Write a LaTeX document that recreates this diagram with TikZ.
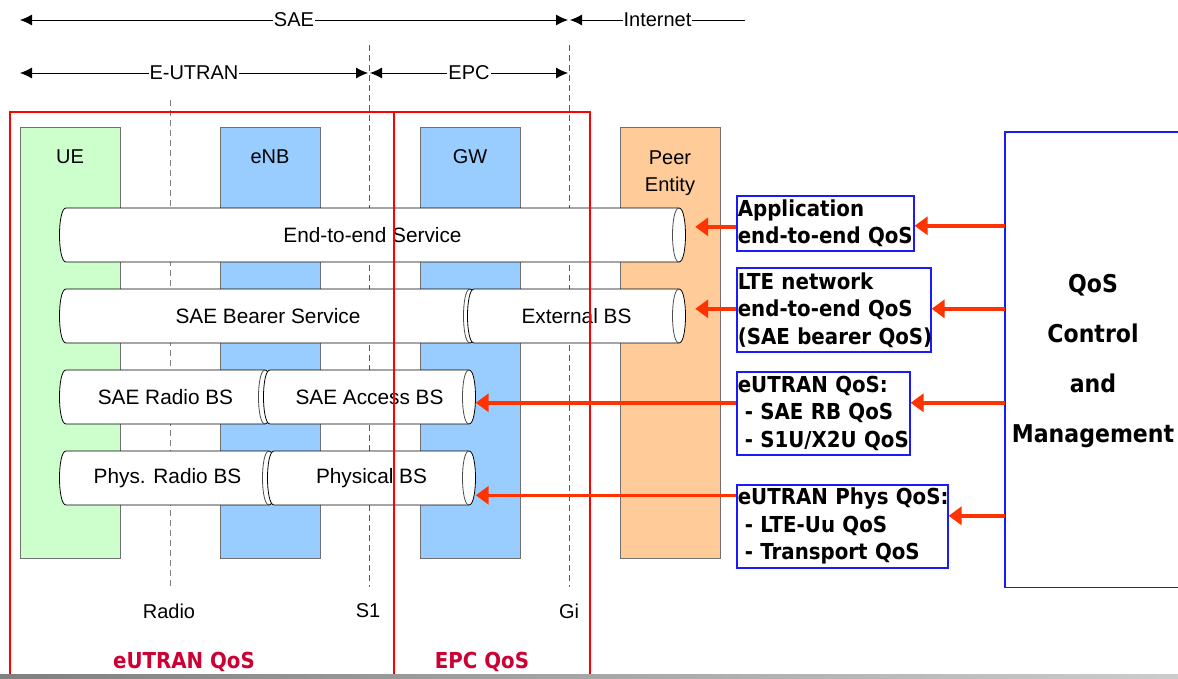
\documentclass[tikz,border=0pt]{standalone}
\usepackage{fontspec}
\setmainfont{Liberation Sans}
\newfontfamily\tah[FakeStretch=0.9]{DejaVu Sans}
\usetikzlibrary{arrows.meta}
\definecolor{uegreen}{HTML}{CCFFCC}
\definecolor{nbblue}{HTML}{99CCFF}
\definecolor{peerorange}{HTML}{FFCC99}
\definecolor{qred}{HTML}{FF3300}
\definecolor{qblue}{HTML}{1A1AFF}
\definecolor{crim}{HTML}{CC0033}
\definecolor{colborder}{HTML}{707070}
\tikzset{tipL/.tip={Latex[length=12pt,width=11pt]}}
\newcommand\cylshape[6]{%
  \draw[cylline] (#2,#3-27) .. controls (#2+8.67,#3-27) and (#2+8.67,#3+27) .. (#2,#3+27)
     -- (#1,#3+27) .. controls (#1-8.67,#3+27) and (#1-8.67,#3-27) .. (#1,#3-27) -- cycle;
  \draw[cylline,fill=none,draw=black!70] (#2,#3-27) .. controls (#2-8.67,#3-27) and (#2-8.67,#3+27) .. (#2,#3+27);
  \node[cyltext,minimum width=#4] (#5) at ({(#1+#2)/2},#3) {#6};}
\newcommand\qline[1]{\mbox{#1}}
\newcommand\qind[1]{\mbox{\hspace*{7pt}#1}}
\begin{document}
\begin{tikzpicture}[x=1pt,y=-1pt,
  colbox/.style={draw=colborder, line width=0.8pt, minimum width=100pt, minimum height=431pt, inner sep=0pt, anchor=north},
  coltext/.style={font=\fontsize{20}{27}\selectfont, align=center},
  cylline/.style={draw=black, line width=0.8pt, fill=white},
  cyltext/.style={font=\fontsize{20.8}{24}\selectfont, minimum height=54pt, inner sep=0pt},
  dimline/.style={line width=0.8pt, draw=black},
  dimtext/.style={font=\fontsize{20}{24}\selectfont, fill=white, inner xsep=1pt, inner ysep=1pt},
  dashln/.style={line width=0.8pt, dash pattern=on 6pt off 4pt, draw=black!65},
  itftext/.style={font=\fontsize{20}{24}\selectfont},
  qbox/.style={draw=qblue, line width=1.6pt, font=\tah\bfseries\fontsize{22}{27.5}\selectfont, align=left, inner xsep=1pt, inner ysep=1pt, anchor=north west},
  qarrow/.style={draw=qred, line width=3.5pt, -{Triangle[length=13pt,width=18pt]}},
  redbox/.style={draw=red, line width=1.5pt},
  redtext/.style={font=\tah\bfseries\fontsize{22}{26}\selectfont, text=crim}
]
\useasboundingbox (0,0) rectangle (1178,678);
\fill[white] (0,0) rectangle (1178,678);

% columns
\node[colbox, fill=uegreen] (ue) at (70,127) {};
\node[colbox, fill=nbblue] (enb) at (270,127) {};
\node[colbox, fill=nbblue] (gw) at (470,127) {};
\node[colbox, fill=peerorange] (peer) at (670,127) {};
\node[coltext] (uet) at (70,157) {UE};
\node[coltext] (enbt) at (270,157) {eNB};
\node[coltext] (gwt) at (470,157) {GW};
\node[coltext] (peert) at (670,173) {Peer\\Entity};

% top dimension lines
\coordinate (saeL) at (20,20);
\coordinate (saeR) at (568,20);
\coordinate (intL) at (570,20);
\coordinate (intR) at (745,20);
\coordinate (eutL) at (20,73);
\coordinate (eutR) at (368,73);
\coordinate (epcL) at (370,73);
\coordinate (epcR) at (568,73);
\draw[dimline, tipL-tipL] (saeL) -- (saeR) node[dimtext, pos=0.5] {SAE};
\draw[dimline, tipL-] (intL) -- (intR) node[dimtext, pos=0.5] {Internet};
\draw[dimline, tipL-tipL] (eutL) -- (eutR) node[dimtext, pos=0.5] {E-UTRAN};
\draw[dimline, tipL-tipL] (epcL) -- (epcR) node[dimtext, pos=0.5] {EPC};

% interface dashed lines
\coordinate (radT) at (170,100);
\coordinate (radB) at (170,587);
\coordinate (s1T) at (369,45);
\coordinate (s1B) at (369,587);
\coordinate (giT) at (569,45);
\coordinate (giB) at (569,587);
\draw[dashln, draw=black!50] (radT) -- (radB);
\draw[dashln] (s1T) -- (s1B);
\draw[dashln] (giT) -- (giB);
\node[itftext] (radio) at (169,611) {Radio};
\node[itftext] (s1) at (368,611) {S1};
\node[itftext] (gi) at (569,611) {Gi};

% bearer cylinders
\cylshape{66}{679}{235}{626pt}{e2e}{End-to-end Service}
\cylshape{66}{470}{316}{417pt}{sbs}{SAE Bearer Service}
\cylshape{474}{679}{316}{218pt}{ext}{External BS}
\cylshape{66}{265}{397}{212pt}{srb}{SAE Radio BS}
\cylshape{270}{469}{397}{212pt}{sab}{SAE Access BS}
\cylshape{66}{269}{478}{216pt}{prb}{Phys. Radio BS}
\cylshape{274}{469}{478}{208pt}{pbs}{Physical BS}

% QoS domain boxes
\draw[redbox] (10,676) -- (10,112) -- (394,112) -- (394,676);
\draw[redbox] (394,112) -- (590,112) -- (590,676);
\node[redtext] (eqos) at (184,662) {eUTRAN QoS};
\node[redtext] (pqos) at (482,662) {EPC QoS};

% QoS description boxes
\node[qbox, text width=175pt, minimum height=55pt] (b1) at (736,195) {\qline{Application}\\\qline{end-to-end QoS}};
\node[qbox, text width=192pt, minimum height=84pt] (b2) at (736,267) {\qline{LTE network}\\\qline{end-to-end QoS}\\\qline{(SAE bearer QoS)}};
\node[qbox, text width=171pt, minimum height=83pt] (b3) at (736,371) {\qline{eUTRAN QoS:}\\\qind{- SAE RB QoS}\\\qind{- S1U/X2U QoS}};
\node[qbox, text width=209pt, minimum height=83pt] (b4) at (736,484) {\qline{eUTRAN Phys QoS:}\\\qind{- LTE-Uu QoS}\\\qind{- Transport QoS}};

% QoS control box
\node[inner sep=0pt, minimum width=180pt, minimum height=455pt, anchor=north west] (qos) at (1005,132) {};
\draw[draw=qblue, line width=1.6pt] (qos.north east) -- (qos.north west) -- (qos.south west) -- (qos.south east);
\node[font=\tah\bfseries\fontsize{24.5}{50}\selectfont, align=center] (qost) at (1093,361) {QoS\\Control\\and\\Management};

% arrows
\draw[qarrow, shorten >=9.5pt] ([yshift=-3.5pt]b1.west) -- ([yshift=-3.5pt]b1.west -| e2e.east);
\draw[qarrow, shorten >=9.5pt] ([yshift=1pt]b2.west) -- ([yshift=1pt]b2.west -| ext.east);
\draw[qarrow] ([yshift=10.5pt]b3.west) -- ([yshift=10.5pt]b3.west -| sab.east);
\draw[qarrow] ([yshift=31pt]b4.west) -- ([yshift=31pt]b4.west -| pbs.east);
\draw[qarrow] ([yshift=-2.5pt]b1.east -| qos.west) -- ([yshift=-2.5pt]b1.east);
\draw[qarrow] ([yshift=1pt]b2.east -| qos.west) -- ([yshift=1pt]b2.east);
\draw[qarrow] ([yshift=10.5pt]b3.east -| qos.west) -- ([yshift=10.5pt]b3.east);
\draw[qarrow] ([yshift=10.5pt]b4.east -| qos.west) -- ([yshift=10.5pt]b4.east);

% bottom edge bar
\shade[left color=black!50, right color=black!20] (0,674) rectangle (1178,678);
\end{tikzpicture}
\end{document}
